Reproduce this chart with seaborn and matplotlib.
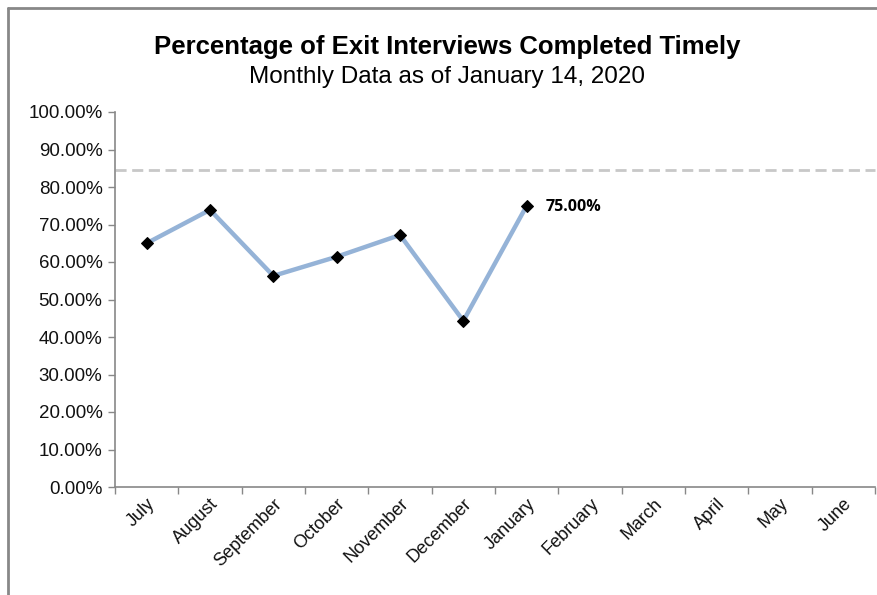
import numpy as np
import pandas as pd
import matplotlib
matplotlib.use("Agg")
import matplotlib.pyplot as plt
import seaborn as sns
from matplotlib.ticker import FuncFormatter, FixedLocator

months = ["July", "August", "September", "October", "November", "December",
          "January", "February", "March", "April", "May", "June"]
values = [65.0, 73.9, 56.3, 61.4, 67.2, 44.3, 75.0]
target = 84.5
yticks = [0, 10, 20, 30, 40, 50, 60, 70, 80, 90, 100]

sns.set_theme(style="white")
plt.rcParams['font.family'] = ['Liberation Sans', 'DejaVu Sans']

fig = plt.figure(figsize=(8.77, 5.95), dpi=100)
ax = fig.add_axes([115/877, 1-487/595, (875-115)/877, (487-112)/595])

df = pd.DataFrame({"pos": np.arange(len(values)), "value": values})
sns.lineplot(data=df, x="pos", y="value", ax=ax, color="#95B3D7", linewidth=3.2,
             marker="D", markersize=6.5, markerfacecolor="black", markeredgecolor="black")
ax.axhline(target, color="#C8C8C8", linestyle=(0, (4, 2)), linewidth=2, xmin=0, xmax=1, clip_on=False)

ax.set_xlim(-0.5, len(months) - 0.5)
ax.set_ylim(0, 100)
ax.set_yticks(yticks)
ax.yaxis.set_major_formatter(FuncFormatter(lambda v, p: f"{v:.2f}%"))
ax.xaxis.set_major_locator(FixedLocator(np.arange(len(months) + 1) - 0.5))
ax.xaxis.set_minor_locator(FixedLocator(np.arange(len(months))))
ax.set_xticklabels([""] * (len(months) + 1))
ax.set_xticklabels(months, minor=True, rotation=45, ha="right", rotation_mode="anchor",
                   fontsize=13, color="#111111")
ax.tick_params(axis="x", which="major", length=5, width=1, color="#888888", direction="out", bottom=True)
ax.tick_params(axis="x", which="minor", length=0, pad=6)
ax.tick_params(axis="y", length=5, width=1, color="#888888", direction="out", left=True, labelsize=13.5, pad=4)
for lab in ax.get_yticklabels():
    lab.set_color("#111111")
ax.set_xlabel("")
ax.set_ylabel("")
for s in ["top", "right"]:
    ax.spines[s].set_visible(False)
for s in ["left", "bottom"]:
    ax.spines[s].set_color("#888888")
    ax.spines[s].set_linewidth(1.2)

ax.annotate(f"{values[-1]:.2f}%", xy=(len(values) - 1, values[-1]), xytext=(14, -1),
            textcoords="offset points", fontsize=11.5, fontweight="bold",
            va="center", ha="left", color="black", family=['Open Sans', 'DejaVu Sans'])

fig.text(447/877, 1-47/595, "Percentage of Exit Interviews Completed Timely",
         ha="center", va="center", fontsize=18.5, fontweight="bold", color="black",
         family=['Liberation Sans Narrow', 'Liberation Sans', 'DejaVu Sans'])
fig.text(447/877, 1-77/595, "Monthly Data as of January 14, 2020",
         ha="center", va="center", fontsize=17.5, color="black",
         family=['Liberation Sans Narrow', 'Liberation Sans', 'DejaVu Sans'])

# frame lines of the chart area
fig.add_artist(plt.Line2D([8/877, 8/877], [0, 1-8/595], color="#888888", linewidth=2, transform=fig.transFigure))
fig.add_artist(plt.Line2D([8/877, 1], [1-8/595, 1-8/595], color="#888888", linewidth=2, transform=fig.transFigure))

fig.savefig("out.png", dpi=100)
